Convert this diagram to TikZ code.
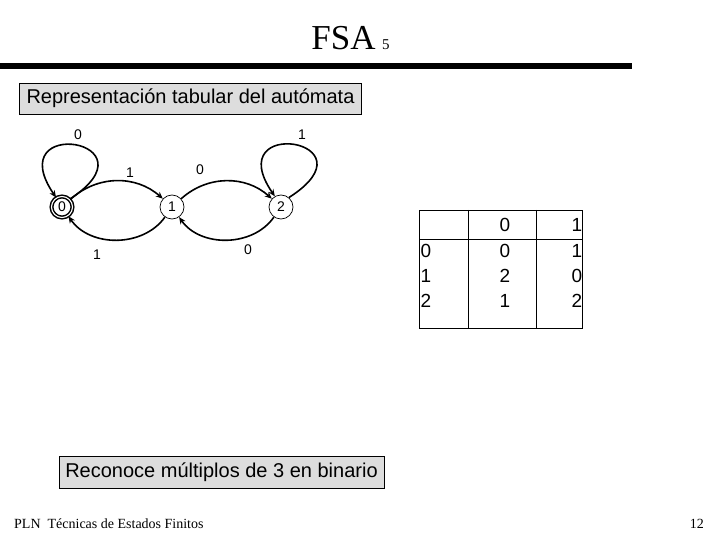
\documentclass[tikz,border=0pt]{standalone}
\usepackage{fontspec}
\setmainfont{Liberation Serif}
\setsansfont{Liberation Sans}
\usetikzlibrary{arrows.meta,positioning,calc}
\definecolor{boxgray}{RGB}{221,221,221}

\begin{document}
\begin{tikzpicture}[x=1pt,y=1pt,
 state/.style={circle,draw,line width=0.7pt,minimum size=24pt,inner sep=0pt,font=\sffamily\fontsize{14}{14}\selectfont},
 accept/.style={state,double,line width=1.5pt,double distance=1.1pt,minimum size=21pt},
 lbl/.style={font=\sffamily\fontsize{14}{14}\selectfont,inner sep=0pt},
 arr/.style={line width=1.6pt,-{Stealth[length=7pt,width=6pt]}},
 graybox/.style={draw,line width=0.6pt,fill=boxgray,font=\sffamily\fontsize{20}{22}\selectfont,inner sep=0pt},
 cell/.style={font=\sffamily\fontsize{19}{19}\selectfont,inner sep=0pt}]
\useasboundingbox (0,0) rectangle (720,-540);
% title and rule
\node[anchor=base,font=\fontsize{35}{35}\selectfont,inner sep=0pt] (title) at (343.5,-50) {FSA};
\node[anchor=base west,font=\fontsize{15}{15}\selectfont,inner sep=0pt] (slide) at (382,-50) {5};
\fill (0,-63) rectangle (632,-69);
\node[graybox,minimum width=342pt,minimum height=31pt] (tabular) at (190.5,-98.5) {Representación tabular del autómata};
% automaton
\node[accept] (s0) at (62,-207) {0};
\node[state] (s1) at (172,-207) {1};
\node[state] (s2) at (281,-207) {2};
\draw[arr] (s0.45) .. controls ($(s0)+(98,67)$) and ($(s0)+(-62,92)$) .. (s0.122);
\draw[arr] (s2.50) .. controls ($(s2)+(98,67)$) and ($(s2)+(-62,92)$) .. (s2.120);
\draw[arr] (s0) to[bend left=42] (s1);
\draw[arr] (s1) to[bend left=42] (s2);
\draw[arr] (s2) to[bend left=55] (s1);
\draw[arr] (s1) to[bend left=55] (s0);
\node[lbl] (l00) at (78,-135) {0};
\node[lbl] (l22) at (302,-135) {1};
\node[lbl] (l01) at (130,-173) {1};
\node[lbl] (l12) at (200,-170) {0};
\node[lbl] (l21) at (248,-250) {0};
\node[lbl] (l10) at (97,-255) {1};
% transition table
\draw[line width=0.6pt] (419,-210) rectangle (582,-328);
\draw[line width=0.6pt] (419,-239) -- (582,-239);
\foreach \xv in {468,536}{\draw[line width=0.6pt] (\xv,-210) -- (\xv,-328);}
\node[cell] (h0) at (505,-225) {0};
\node[cell] (h1) at (577,-225) {1};
\foreach \row/\q/\a/\b in {0/0/0/1,1/1/2/0,2/2/1/2}{
  \node[cell] (q\row) at (426,-251-\row*25) {\q};
  \node[cell] (a\row) at (505,-251-\row*25) {\a};
  \node[cell] (b\row) at (577,-251-\row*25) {\b};
}
\node[graybox,minimum width=325pt,minimum height=32pt] (binario) at (221.5,-472) {Reconoce múltiplos de 3 en binario};
% footer
\node[anchor=base west,font=\fontsize{14}{14}\selectfont,inner sep=0pt] (footer) at (14,-528) {PLN\ \ Técnicas de Estados Finitos};
\node[anchor=base east,font=\fontsize{14}{14}\selectfont,inner sep=0pt] (page) at (704,-528) {12};
\end{tikzpicture}
\end{document}
